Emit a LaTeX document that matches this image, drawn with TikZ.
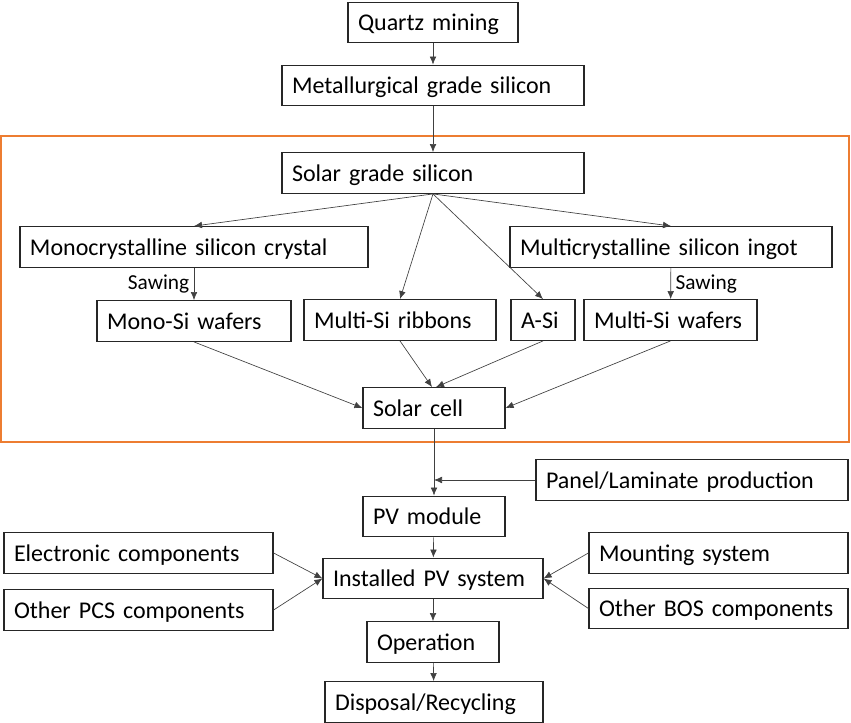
\documentclass[tikz,border=0pt]{standalone}
\usepackage{fontspec}
\setmainfont{Carlito}
\usetikzlibrary{arrows.meta}
\definecolor{frameorange}{HTML}{ED7D31}

\begin{document}
\begin{tikzpicture}[x=0.75pt, y=-0.75pt, >={Latex[length=6pt,width=5pt]},
	box/.style={draw=black!85, line width=0.9pt, minimum height=30.5pt, inner xsep=7.5pt, inner ysep=3pt, text height=15.5pt, text depth=3pt, align=left, font=\fontsize{18}{20}\selectfont, text width=#1},
	flow/.style={->, line width=0.5pt, draw=black!75},
	note/.style={font=\fontsize{16}{18}\selectfont}]
	\useasboundingbox (0,0) rectangle (851,723);
	\draw[frameorange, line width=1.5pt] (1,136) rectangle (849,442);
	% upstream
	\node[box=112.5pt] (quartz) at (433,22.5) {Quartz mining};
	\node[box=211.5pt] (metal) at (433,85.5) {Metallurgical grade silicon};
	\node[box=211.5pt] (solar) at (433,173) {Solar grade silicon};
	\node[box=246pt] (mono) at (194,247) {Monocrystalline silicon crystal};
	\node[box=226.5pt] (ingot) at (671,247) {Multicrystalline silicon ingot};
	\node[box=130.5pt] (monowaf) at (194,321) {Mono-Si wafers};
	\node[box=129pt] (ribbons) at (400,320) {Multi-Si ribbons};
	\node[box=33pt] (asi) at (543,320) {A-Si};
	\node[box=114.75pt] (multiwaf) at (670.5,320) {Multi-Si wafers};
	\node[box=91.5pt] (cell) at (434,408) {Solar cell};
	% downstream
	\node[box=219pt] (panel) at (692,480) {Panel/Laminate production};
	\node[box=91.5pt] (module) at (434,516.5) {PV module};
	\node[box=186.75pt] (elec) at (138.5,553) {Electronic components};
	\node[box=186.75pt] (pcs) at (138.5,610) {Other PCS components};
	\node[box=150pt] (installed) at (433,578.5) {Installed PV system};
	\node[box=179.25pt] (mounting) at (718.5,553) {Mounting system};
	\node[box=179.25pt] (bos) at (718.5,608.5) {Other BOS components};
	\node[box=84pt] (operation) at (433,642) {Operation};
	\node[box=148.5pt] (disposal) at (434,702) {Disposal/Recycling};
	\coordinate (join) at (cell.south |- panel.west);

	\draw[flow] (quartz) -- (metal);
	\draw[flow] (metal) -- (solar);
	\draw[flow] (solar.south) -- (mono.north);
	\draw[flow] (solar.south) -- (ribbons.north);
	\draw[flow] (solar.south) -- (asi.north);
	\draw[flow] (solar.south) -- (ingot.north);
	\draw[flow] (mono) -- node[note, midway, left] {Sawing} (monowaf);
	\draw[flow] (ingot) -- node[note, midway, right] {Sawing} (multiwaf);
	\draw[flow] (monowaf.south) -- (cell.west);
	\draw[flow] (ribbons.south) -- ([xshift=-1.5pt]cell.north);
	\draw[flow] (asi.south) -- ([xshift=1.5pt]cell.north);
	\draw[flow] (multiwaf.south) -- (cell.east);
	\draw[flow] (cell) -- (module);
	\draw[flow] (panel) -- (join);
	\draw[flow] (module) -- (installed);
	\draw[flow] (elec.east) -- (installed.west);
	\draw[flow] (pcs.east) -- (installed.west);
	\draw[flow] (mounting.west) -- (installed.east);
	\draw[flow] (bos.west) -- (installed.east);
	\draw[flow] (installed) -- (operation);
	\draw[flow] (operation) -- (disposal);
\end{tikzpicture}
\end{document}
